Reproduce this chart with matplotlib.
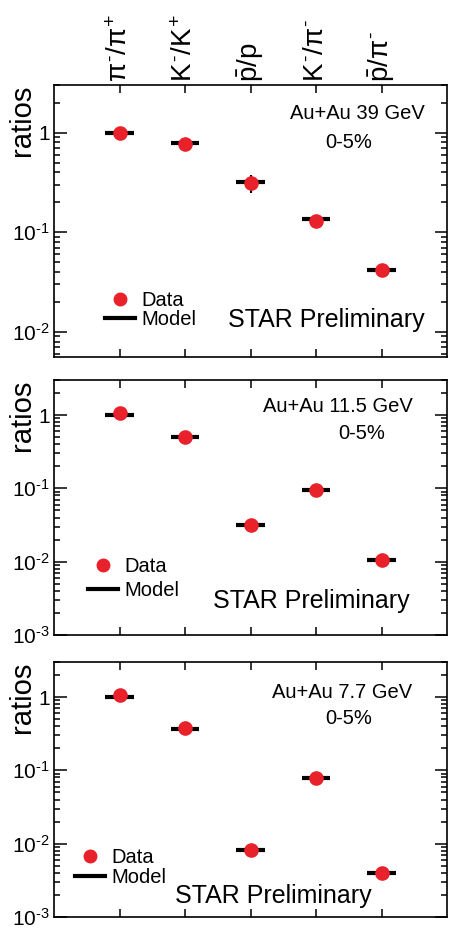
import numpy as np
import matplotlib.pyplot as plt
from matplotlib.lines import Line2D
from matplotlib.ticker import FixedLocator, LogLocator, FuncFormatter, NullFormatter

plt.rcParams['font.family'] = ['Liberation Sans', 'DejaVu Sans']
plt.rcParams['mathtext.fontset'] = 'custom'
plt.rcParams['mathtext.rm'] = 'Liberation Sans'
plt.rcParams['mathtext.it'] = 'Liberation Sans'
plt.rcParams['mathtext.sf'] = 'Liberation Sans'

# particle ratios (top labels)
ratio_names = [r'$\pi^{\text{-}}/\pi^{+}$', r'$K^{\text{-}}/K^{+}$', r'$\bar{p}/p$',
               r'$K^{\text{-}}/\pi^{\text{-}}$', r'$\bar{p}/\pi^{\text{-}}$']
xpos = np.arange(1, 6)

energies = ['39', '11.5', '7.7']

data_39 = [1.0, 0.77, 0.31, 0.13, 0.042]
err_39 = [0.02, 0.02, 0.065, 0.004, 0.0055]
model_39 = [1.0, 0.78, 0.32, 0.135, 0.042]

data_115 = [1.05, 0.50, 0.032, 0.094, 0.0107]
err_115 = [0.02, 0.01, 0.001, 0.002, 0.0003]
model_115 = [1.0, 0.50, 0.032, 0.094, 0.0105]

data_77 = [1.08, 0.38, 0.0083, 0.079, 0.0040]
err_77 = [0.02, 0.01, 0.0003, 0.002, 0.0001]
model_77 = [1.0, 0.37, 0.0083, 0.078, 0.0040]

panels = [
    dict(energy=energies[0], data=data_39, err=err_39, model=model_39,
         rect=[0.1195, 0.6186, 0.8695, 0.2906], ylim=(0.0056, 3.0),
         title_xy=(0.772, 0.897), cent_xy=(0.751, 0.79), star_xy=(0.693, 0.136),
         leg_xy=(0.13, 0.171), leg_sp=0.0),
    dict(energy=energies[1], data=data_115, err=err_115, model=model_115,
         rect=[0.1195, 0.3216, 0.8695, 0.2724], ylim=(0.001, 3.0),
         title_xy=(0.721, 0.898), cent_xy=(0.784, 0.792), star_xy=(0.655, 0.133),
         leg_xy=(0.0865, 0.2216), leg_sp=0.25),
    dict(energy=energies[2], data=data_77, err=err_77, model=model_77,
         rect=[0.1195, 0.0203, 0.8695, 0.2724], ylim=(0.001, 3.0),
         title_xy=(0.734, 0.882), cent_xy=(0.751, 0.78), star_xy=(0.5585, 0.082),
         leg_xy=(0.053, 0.194), leg_sp=0.05),
]

red = '#e8212b'


def yfmt(v, pos):
    e = int(round(np.log10(v)))
    if e == 0:
        return '1'
    return r'$10^{\text{-}%d}$' % abs(e)


fig = plt.figure(figsize=(4.52, 9.36), dpi=100)

for i, p in enumerate(panels):
    ax = fig.add_axes(p['rect'])
    ax.set_yscale('log')
    ax.set_xlim(0, 6)
    ax.set_ylim(*p['ylim'])

    ax.hlines(p['model'], xpos - 0.22, xpos + 0.22, color='black', lw=3, zorder=2)
    ax.errorbar(xpos, p['data'], yerr=p['err'], fmt='none', ecolor='black',
                elinewidth=1.5, capsize=0, zorder=3)
    ax.plot(xpos, p['data'], 'o', color=red, ms=9.5, mec=red, zorder=4)

    ax.xaxis.set_major_locator(FixedLocator(xpos))
    ax.yaxis.set_major_locator(LogLocator(base=10))
    ax.yaxis.set_minor_locator(LogLocator(base=10, subs=np.arange(2, 10)))
    ax.yaxis.set_major_formatter(FuncFormatter(yfmt))
    ax.yaxis.set_minor_formatter(NullFormatter())
    ax.tick_params(axis='both', which='both', direction='in', top=True, right=True,
                   width=1.1)
    ax.tick_params(axis='y', which='major', length=9, labelsize=15, pad=3)
    ax.tick_params(axis='y', which='minor', length=4.5)
    ax.tick_params(axis='x', which='major', length=6)
    if i == 0:
        ax.set_xticklabels(ratio_names, rotation=90, fontsize=20)
        ax.tick_params(axis='x', labeltop=True, labelbottom=False, pad=2)
    else:
        ax.tick_params(axis='x', labelbottom=False)
    for s in ax.spines.values():
        s.set_linewidth(1.2)

    ax.text(-0.082, 1.0, 'ratios', rotation=90, transform=ax.transAxes,
            ha='center', va='top', fontsize=21)
    ax.text(*p['title_xy'], 'Au+Au %s GeV' % p['energy'], transform=ax.transAxes,
            ha='center', va='center', fontsize=14.5)
    ax.text(*p['cent_xy'], '0-5%', transform=ax.transAxes,
            ha='center', va='center', fontsize=14.5)
    ax.text(*p['star_xy'], 'STAR Preliminary', transform=ax.transAxes,
            ha='center', va='center', fontsize=18)

    handles = [Line2D([], [], marker='o', ls='none', color=red, ms=9),
               Line2D([], [], color='black', lw=3)]
    ax.legend(handles, ['Data', 'Model'], loc='center left', bbox_to_anchor=p['leg_xy'],
              frameon=False, fontsize=14.5, borderpad=0, borderaxespad=0,
              handlelength=1.5, handletextpad=0.3, labelspacing=p['leg_sp'])

fig.savefig('out.png', dpi=100)
